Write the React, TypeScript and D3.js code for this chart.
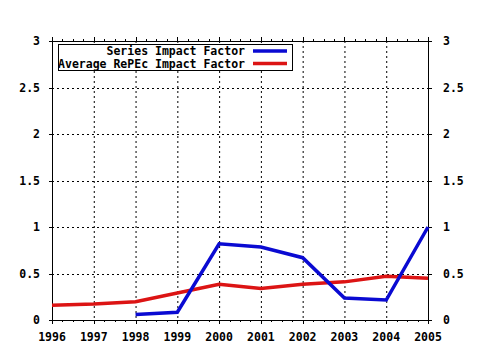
import React from 'react';
import * as d3 from 'd3';

const width = 480;
const height = 350;
const margin = { top: 41, right: 52, bottom: 30, left: 52 };

const years = [1996, 1997, 1998, 1999, 2000, 2001, 2002, 2003, 2004, 2005];
const seriesYears = [1998, 1999, 2000, 2001, 2002, 2003, 2004, 2005];
const seriesImpact = [0.06, 0.083, 0.82, 0.785, 0.67, 0.237, 0.215, 1.0];
const avgImpact = [0.158, 0.172, 0.197, 0.29, 0.385, 0.34, 0.385, 0.41, 0.47, 0.45];
const yTicks = [0, 0.5, 1, 1.5, 2, 2.5, 3];
const yTickLabels = ['0', '0.5', '1', '1.5', '2', '2.5', '3'];
const legendLabels = ['Series Impact Factor', 'Average RePEc Impact Factor'];
const colors = ['#0a0ad2', '#dc1414'];

const font = '"DejaVu Sans Mono", monospace';

export default function App() {
  const x = d3.scaleLinear().domain([1996, 2005]).range([margin.left, width - margin.right]);
  const y = d3.scaleLinear().domain([0, 3]).range([height - margin.bottom, margin.top]);
  const [x0, x1] = x.range();
  const [y0, y1] = y.range();

  const line = d3.line<[number, number]>().x(d => x(d[0])).y(d => y(d[1]));
  const seriesPath = line(seriesYears.map((yr, i) => [yr, seriesImpact[i]]));
  const avgPath = line(years.map((yr, i) => [yr, avgImpact[i]]));

  // minor ticks every quarter year
  const minor = d3.range(1996, 2005.01, 0.25);

  return (
    <div style={{ position: 'absolute', left: 0, top: 0 }}>
      <svg width={width} height={height} style={{ display: 'block', background: '#fff' }}>
        {/* grid */}
        {years.slice(1, -1).map(yr => (
          <line key={yr} x1={x(yr) + 0.5} x2={x(yr) + 0.5} y1={y1} y2={y0}
            stroke="#000" strokeWidth={1} strokeDasharray="2,3" />
        ))}
        {yTicks.slice(1, -1).map(t => (
          <line key={t} x1={x0} x2={x1} y1={Math.round(y(t)) + 0.5} y2={Math.round(y(t)) + 0.5}
            stroke="#000" strokeWidth={1} strokeDasharray="2,3" />
        ))}

        {/* frame */}
        <rect x={x0 + 0.5} y={y1 + 0.5} width={x1 - x0} height={y0 - y1} fill="none" stroke="#000" strokeWidth={1} />

        {/* x ticks */}
        {minor.map((m, i) => {
          const major = i % 4 === 0;
          const len = major ? 4 : 2;
          const px = Math.round(x(m)) + 0.5;
          return (
            <g key={m}>
              <line x1={px} x2={px} y1={y0} y2={y0 + len} stroke="#000" />
              <line x1={px} x2={px} y1={y1} y2={y1 - len} stroke="#000" />
            </g>
          );
        })}
        {/* y ticks */}
        {yTicks.map(t => {
          const py = Math.round(y(t)) + 0.5;
          return (
            <g key={t}>
              <line x1={x0 - 3} x2={x0} y1={py} y2={py} stroke="#000" />
              <line x1={x1} x2={x1 + 4} y1={py} y2={py} stroke="#000" />
            </g>
          );
        })}

        {/* tick labels */}
        {years.map(yr => (
          <text key={yr} x={x(yr)} y={y0 + 21} textAnchor="middle" fontFamily={font}
            fontWeight="bold" fontSize={11.5}>{yr}</text>
        ))}
        {yTicks.map((t, i) => (
          <g key={t}>
            <text x={x0 - 12} y={y(t) + 4} textAnchor="end" fontFamily={font} fontWeight="bold" fontSize={11.5}>
              {yTickLabels[i]}
            </text>
            <text x={x1 + 15} y={y(t) + 4} textAnchor="start" fontFamily={font} fontWeight="bold" fontSize={11.5}>
              {yTickLabels[i]}
            </text>
          </g>
        ))}

        {/* lines */}
        <path d={avgPath ?? ''} fill="none" stroke={colors[1]} strokeWidth={3.5} />
        <path d={seriesPath ?? ''} fill="none" stroke={colors[0]} strokeWidth={3.5} />

        {/* legend */}
        <defs>
          <clipPath id="legclip">
            <rect x={58} y={44} width={235} height={27} />
          </clipPath>
        </defs>
        <rect x={58.5} y={44.5} width={234} height={26} fill="#fff" stroke="#000" />
        <g clipPath="url(#legclip)">
          {legendLabels.map((lab, i) => (
            <g key={lab}>
              <text x={245} y={55 + i * 13} textAnchor="end" fontFamily={font} fontWeight="bold" fontSize={11.5}>
                {lab}
              </text>
              <line x1={253} x2={287} y1={51 + i * 12.5} y2={51 + i * 12.5} stroke={colors[i]} strokeWidth={3.5} />
            </g>
          ))}
        </g>
      </svg>
    </div>
  );
}
